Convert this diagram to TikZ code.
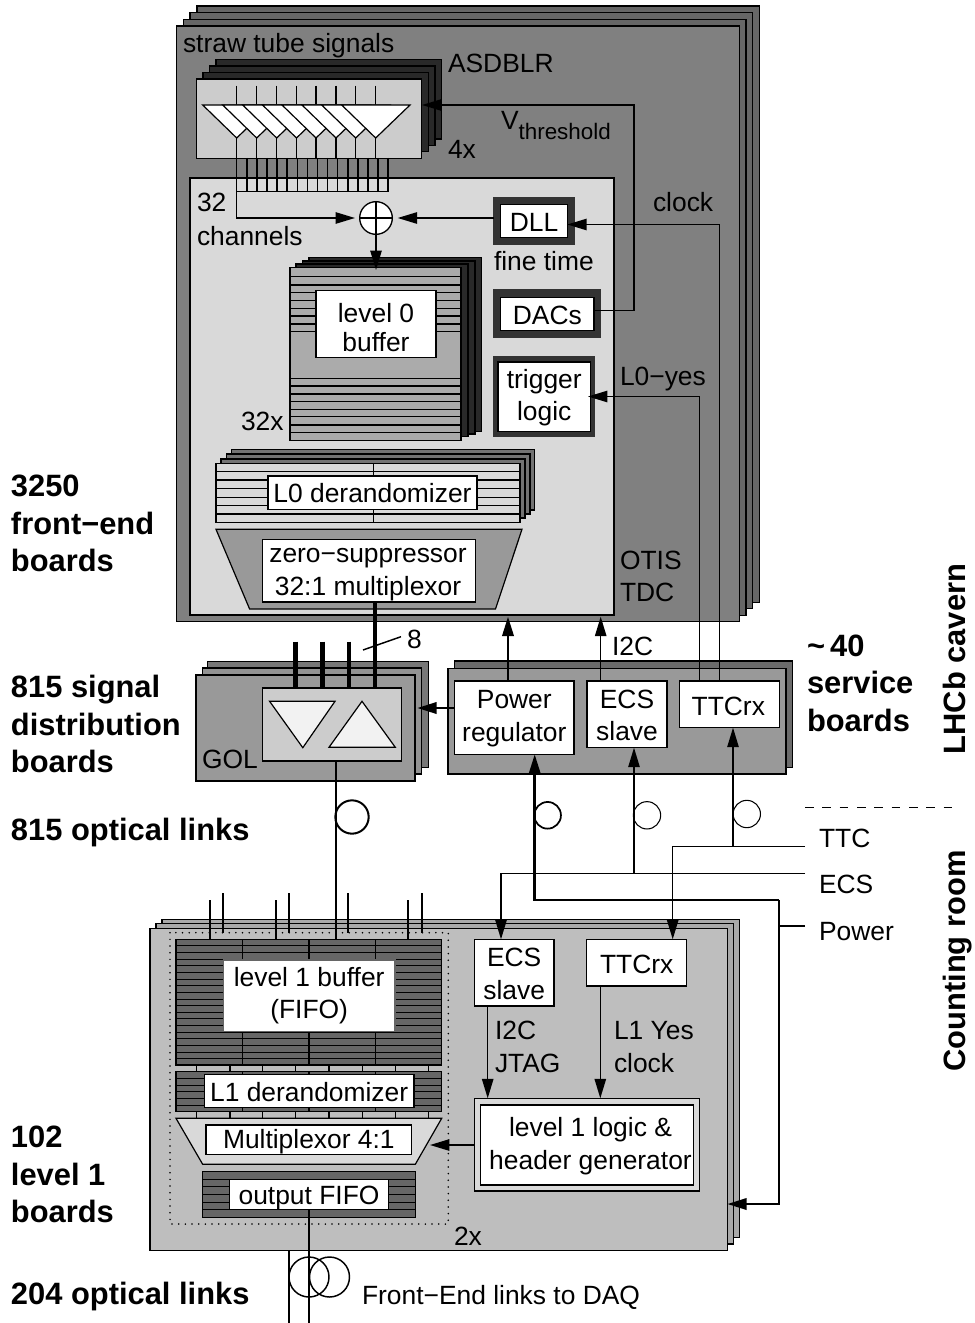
\documentclass[tikz,border=0pt]{standalone}
\usepackage{fontspec}
\setmainfont{Liberation Sans}
\usetikzlibrary{arrows.meta}
\definecolor{bdfront}{gray}{0.50}
\definecolor{bdback}{gray}{0.40}
\definecolor{asd}{gray}{0.16}
\definecolor{lightp}{gray}{0.85}
\definecolor{midg}{gray}{0.80}
\definecolor{bufg}{gray}{0.67}
\definecolor{trapg}{gray}{0.60}
\definecolor{svc}{gray}{0.60}
\definecolor{svcb}{gray}{0.42}
\definecolor{golb}{gray}{0.47}
\definecolor{lonef}{gray}{0.745}
\definecolor{loneb}{gray}{0.66}
\definecolor{fifo}{gray}{0.40}
\definecolor{ring}{gray}{0.20}
\definecolor{derb}{gray}{0.45}
% \bx[text shift]{name}{x1}{y1}{x2}{y2}{box style}{text}
\newcommand\bx[8][shift={(0,1)}]{%
  \pgfmathsetmacro\bw{(#5-#3)*0.75}\pgfmathsetmacro\bh{(#6-#4)*0.75}%
  \pgfmathsetmacro\cx{(#3+#5)/2}\pgfmathsetmacro\cy{(#4+#6)/2}%
  \node[minimum width=\bw pt,minimum height=\bh pt,inner sep=0pt,outer sep=0pt,#7] (#2) at (\cx,\cy) {};%
  \if\relax\detokenize{#8}\relax\else
    \node[inner sep=0pt,outer sep=0pt,align=center,#1] (#2t) at (\cx,\cy) {#8};%
  \fi}
\newcommand\rc[5]{\draw[thin box,#5] (#1,#2) rectangle (#3,#4);}
\tikzset{
  thin box/.style={draw=black,line width=0.9pt},
  fbox/.style={draw=black,line width=0.9pt},
  wbox/.style={draw=black,line width=0.9pt,fill=white},
  lbl/.style={anchor=base west,inner sep=0pt,outer sep=0pt,font=\fontsize{19.8}{24.4}\selectfont},
  blbl/.style={anchor=base west,inner sep=0pt,outer sep=0pt,font=\fontsize{23.15}{28}\selectfont\bfseries},
  wire/.style={line width=1.1pt,draw=black},
  hatch/.style={line width=0.9pt,draw=black},
  fhatch/.style={line width=0.7pt,draw=black},
  arr/.style={wire,-{Triangle[length=14.5pt,width=8.5pt]}},
  harr/.style={line width=1.9pt,draw=black,-{Triangle[length=14.5pt,width=8.5pt]}},
  bus/.style={line width=3.4pt,draw=black},
}
\begin{document}
\begin{tikzpicture}[x=0.75pt,y=-0.75pt,font=\fontsize{19.8}{24.4}\selectfont]
\useasboundingbox (0,0) rectangle (974,1323);
% ---- front-end boards
\rc{197}{6}{759.3}{602.3}{fill=bdback}
\rc{190}{12.7}{752.7}{608.3}{fill=bdback}
\rc{183.5}{19.3}{746}{615.3}{fill=bdback}
\bx{feb}{176.5}{26}{739.3}{621.7}{fbox,fill=bdfront}{}
% ---- ASDBLR stack
\rc{216}{59.3}{441.5}{139}{fill=asd}
\rc{209.6}{66}{435}{145.7}{fill=asd}
\rc{203}{72.7}{428.3}{151.7}{fill=asd}
\bx{asdblr}{196.3}{79}{421.7}{158.3}{fbox,fill=midg}{}
% panel
\bx{panel}{190}{178}{614}{615}{fbox,fill=lightp}{}
% amplifiers
\foreach \ax in {236.7,256.7,276.7,296.5,316,336,355.7,375.7}{
  \draw[wire] (\ax,85.7) -- (\ax,105);
  \draw[wire] (\ax,138) -- (\ax,158);
}
\foreach \ax in {236.7,256.7,276.7,296.5,316,336,355.7,375.7}{
  \draw[line width=0.9pt,fill=white] (\ax-34,105) -- (\ax+34.3,105) -- (\ax,138) -- cycle;
}
% comb
\foreach \ci in {0,...,15}{
  \draw[wire] (236.7+\ci*10.1,158) -- (236.7+\ci*10.1,191.7);
}
\draw[wire] (236.7,191.7) -- (388.3,191.7);
\coordinate (combcorner) at (236.7,191.7);
% adder
\node[draw=black,line width=1pt,fill=white,circle,minimum size=24.5pt,inner sep=0pt,outer sep=0pt] (adder) at (376,218) {};
\draw[line width=1pt] (adder.west) -- (adder.east) (adder.north) -- (adder.south);
\draw[arr] (combcorner) |- ([xshift=-3.5pt]adder.west);
% level 0 buffer stack
\rc{309}{257.7}{481.7}{431.7}{fill=asd}
\rc{302.7}{261}{475}{434}{fill=asd}
\rc{296}{264}{468}{436.7}{fill=asd}
\bx{lzero}{290}{267.3}{461}{440.7}{fbox,fill=bufg}{}
\foreach \hy in {276.7,285,292.3,300.7,308.3,316,324,331.7,378.3,386,394,401.7,409.3,416.7,425,432.7}{
  \draw[hatch] (290,\hy) -- (461,\hy);
}
\bx[shift={(0,3.5)}]{lzlabel}{316}{290.7}{436}{357.3}{wbox}{level 0\\[-2.6pt]buffer}
\draw[arr] (adder.south) -- (376,270);
% DLL, DACs, trigger
\bx{dllo}{494}{197.7}{574}{244.3}{draw=ring,line width=0.9pt,fill=ring}{}
\bx{dll}{500.7}{204.3}{567.3}{237.7}{wbox}{DLL}
\bx{daco}{494}{290}{600.7}{337.7}{draw=ring,line width=0.9pt,fill=ring}{}
\bx{dacs}{500.7}{297.7}{594}{330.7}{wbox}{DACs}
\bx{trigo}{494}{356.7}{594}{436.7}{draw=ring,line width=0.9pt,fill=ring}{}
\bx{trig}{498}{362}{590.5}{431.7}{wbox}{trigger\\logic}
\draw[arr] (dllo.west |- adder.east) -- ([xshift=4pt]adder.east);
% L0 derandomizer
\rc{231.5}{449.3}{534.5}{510}{fill=derb}
\rc{226.5}{454}{530}{514}{fill=derb}
\rc{221}{459}{525}{518}{fill=derb}
\bx{lzd}{216}{463.3}{520}{522.7}{fbox,fill=lightp}{}
\foreach \hy in {471.7,480,488.3,497.3,505.7,514}{
  \draw[hatch] (216,\hy) -- (520,\hy);
}
\draw[hatch] (373.8,463.3) -- (373.8,522.7);
\bx[shift={(0,0)}]{lzdlabel}{268}{476}{477}{509.3}{wbox}{L0 derandomizer}
% zero suppressor
\draw[thin box,fill=trapg] (216,529.3) -- (522,529.3) -- (495.5,609) -- (249.6,609) -- cycle;
\bx[shift={(-1,4)}]{zero}{262.7}{539.3}{475.3}{602}{wbox}{zero−suppressor\\32:1 multiplexor}
% front-end text
\node[lbl] (tstraw) at (183,53) {straw tube signals};
\node[lbl] (tasd) at (448,73) {ASDBLR};
\node[lbl] (tfour) at (448,159) {4x};
\node[lbl] (tvth) at (501,130) {V\raisebox{-7.5pt}{\fontsize{16.8}{20}\selectfont threshold}};
\node[lbl] (tclock) at (653,212) {clock};
\node[lbl] (t32) at (197,212) {32};
\node[lbl] (tchan) at (197,245) {channels};
\node[lbl] (tfine) at (494,271) {fine time};
\node[lbl] (tloy) at (620,385) {L0−yes};
\node[lbl] (t32x) at (241,430) {32x};
\node[lbl] (totis) at (620,569) {OTIS};
\node[lbl] (ttdc) at (620,601) {TDC};
% GOL boards
\rc{207.8}{661.7}{428.5}{767.7}{fill=golb}
\rc{202.4}{668}{421.4}{774}{fill=golb!80!white}
\bx{gol}{196}{675}{415}{781}{fbox,fill=svc}{}
\bx{golin}{262.5}{688}{401.5}{761}{fbox,fill=midg}{}
\draw[line width=0.9pt,fill=black!5] (269.6,701.3) -- (335,701.3) -- (302.8,747.7) -- cycle;
\draw[line width=0.9pt,fill=black!5] (329,747.3) -- (395.3,747.3) -- (362,701.3) -- cycle;
\node[lbl] (tgol) at (202,768) {GOL};
\foreach \bxx in {295.7,322.3,348.8}{
  \draw[bus] (\bxx,641.7) -- (\bxx,688);
}
\draw[bus] (375,0 |- zero.south) -- (375,0 |- golin.north);
\coordinate (ticka) at (363,650);
\coordinate (tickb) at (401,636.7);
\draw[line width=1.1pt] (ticka) -- (tickb);
\node[lbl] (teight) at (407,648) {8};
% service boards
\rc{454.6}{661}{792.7}{767.7}{fill=svcb}
\bx{svcf}{448}{668.3}{786}{774}{fbox,fill=svc}{}
\bx{pwr}{454.6}{681}{574}{754.3}{wbox}{Power\\regulator}
\bx{ecs}{587}{681}{667}{747.7}{wbox}{ECS\\slave}
\bx[shift={(-1,2)}]{ttc}{679.3}{681}{779.3}{727.7}{wbox}{TTCrx}
\draw[harr] (pwr.west |- 0,708) -- (417.3,708);
\draw[harr] (508,0 |- pwr.north) -- (508,616.7);
\draw[arr] (600.7,0 |- ecs.north) -- (600.7,616.7);
\node[lbl] (ti2c) at (612,655) {I2C};
\draw[arr] (699.5,0 |- ttc.north) -- (699.5,396.5) -- (588,396.5);
\draw[arr] (719.5,0 |- ttc.north) -- (719.5,224.5) -- (dll.east |- 0,224.5);
% DAC threshold line
\draw[arr] (dacs.east |- 0,310.7) -- (634,310.7) -- (634,105) -- (422,105);
% L1 boards
\rc{162}{919.3}{739.3}{1237.3}{fill=loneb}
\rc{156}{923.3}{733.3}{1244}{fill=loneb}
\bx{lone}{150}{928.3}{727.3}{1250.7}{fbox,fill=lonef}{}
\draw[line width=1.3pt,dash pattern=on 0pt off 5pt,line cap=round] (170,932.7) rectangle (448.3,1224);
% input ticks
\foreach \tx in {209.7,275.7,408}{ \draw[line width=1.3pt] (\tx,900) -- (\tx,939.3); }
\foreach \tx in {222.7,289,348.3,421.7}{ \draw[line width=1.3pt] (\tx,893.3) -- (\tx,932.7); }
% level 1 buffer
\bx{lonebuf}{176}{939.3}{441.7}{1065}{fbox,fill=fifo}{}
\foreach \hi in {1,...,18}{ \draw[fhatch] (176,939.3+\hi*6.63) -- (441.7,939.3+\hi*6.63); }
\foreach \vx in {242.7,309,375.3}{ \draw[line width=1.1pt] (\vx,939.3) -- (\vx,1065); }
\bx[shift={(0,0)}]{lonelab}{223.3}{960}{395}{1031.7}{wbox,draw=black!60}{level 1 buffer\\(FIFO)}
% bricks
\foreach \bkx in {196.7,230,262.7,295.7,329,362.3,395.7,428.7}{
  \draw[hatch] (\bkx,1065) -- (\bkx,1071.7);
  \draw[hatch] (\bkx,1111.7) -- (\bkx,1118.3);
}
% L1 derandomizer
\bx{loned}{176}{1071.7}{441.7}{1111.7}{fbox,fill=fifo}{}
\foreach \hi in {1,...,5}{ \draw[fhatch] (176,1071.7+\hi*6.67) -- (441.7,1071.7+\hi*6.67); }
\foreach \vx in {242.7,309,375.3}{ \draw[line width=1.1pt] (\vx,1071.7) -- (\vx,1111.7); }
\bx{lonedl}{204.3}{1074.3}{414}{1107.3}{wbox}{L1 derandomizer}
% multiplexor
\draw[thin box,fill=lightp] (176,1118.3) -- (441.7,1118.3) -- (415.3,1164.3) -- (202.7,1164.3) -- cycle;
\bx[shift={(0,2)}]{mux}{206}{1125}{411.7}{1154.3}{wbox}{Multiplexor 4:1}
% output fifo
\bx{ofifo}{202.7}{1171.3}{415.3}{1217.7}{fbox,fill=fifo}{}
\foreach \hi in {1,...,5}{ \draw[fhatch] (202.7,1171.3+\hi*7.7) -- (415.3,1171.3+\hi*7.7); }
\bx[shift={(0,4)}]{ofifol}{229.3}{1179.3}{388.7}{1209.3}{wbox}{output FIFO}
% L1 right side
\bx{lecs}{474.3}{939.3}{554}{1006}{wbox}{ECS\\slave}
\bx[shift={(0,2)}]{lttc}{586.7}{939.3}{686.7}{986}{wbox}{TTCrx}
\bx{llogo}{474.3}{1098.3}{699.7}{1191}{fbox,fill=lightp}{}
\bx[shift={(3.5,1)}]{llog}{480.7}{1105}{693.3}{1185}{wbox}{level 1 logic \&\\header generator}
\draw[arr] (487.7,0 |- lecs.south) -- (487.7,0 |- llogo.north);
\draw[arr] (600.3,0 |- lttc.south) -- (600.3,0 |- llogo.north);
\draw[arr] (llogo.west |- 0,1145) -- (430,1145);
\node[lbl] (tli2c) at (495,1039) {I2C};
\node[lbl] (tjtag) at (495,1072) {JTAG};
\node[lbl] (tl1y) at (614,1039) {L1 Yes};
\node[lbl] (tlck) at (614,1072) {clock};
\node[lbl] (ttwo) at (454,1245) {2x};
% optical main link
\draw[wire] (336,0 |- golin.south) -- (336,0 |- lonebuf.north);
\node[draw=black,line width=1.5pt,circle,minimum size=25pt,inner sep=0pt] (optring) at (352,817) {};
% service feeds
\coordinate (ttcin) at (805,846.7);
\coordinate (ecsin) at (805,873.3);
\coordinate (pwrin) at (805,926);
\draw[arr] (ttcin) -- (672.7,846.7) -- (672.7,0 |- lttc.north);
\draw[arr] (733,846.7) -- (733,0 |- ttc.south);
\draw[wire] (ecsin) -- (501,873.3);
\draw[arr] (501,873.3) -- (501,0 |- lecs.north);
\draw[arr] (634,873.3) -- (634,0 |- ecs.south);
\draw[harr] (779,900) -- (534.7,900) -- (534.7,0 |- pwr.south);
\draw[harr] (779,900) -- (779,1204) -- (lone.east |- 0,1204);
\draw[line width=1.4pt] (pwrin) -- (779,926);
\node[draw=black,line width=1.3pt,circle,minimum size=20pt,inner sep=0pt] (pring) at (547.6,815.3) {};
\node[draw=black,line width=0.8pt,circle,minimum size=20.5pt,inner sep=0pt] (ering) at (647,815.3) {};
\node[draw=black,line width=0.8pt,circle,minimum size=20.5pt,inner sep=0pt] (tring) at (746.8,814) {};
\coordinate (dasha) at (805,807);
\coordinate (dashb) at (956,807);
\draw[line width=0.7pt,dash pattern=on 6.5pt off 6.5pt] (dasha) -- (dashb);
\node[lbl] (tttc) at (819,847) {TTC};
\node[lbl] (tecs) at (819,893) {ECS};
\node[lbl] (tpow) at (819,940) {Power};
% output
\draw[line width=1.2pt] (309,0 |- ofifol.south) -- (309,1322.7);
\draw[wire] (289,0 |- lone.south) -- (289,1322.7);
\node[draw=black,line width=1.1pt,circle,minimum size=30pt,inner sep=0pt] (ra) at (309,1277) {};
\node[draw=black,line width=1.1pt,circle,minimum size=30pt,inner sep=0pt] (rb) at (329.5,1277) {};
\node[lbl] (tfe) at (362,1304) {Front−End links to DAQ};
% bold labels
\node[blbl] (b1) at (11,496) {3250};
\node[blbl] (b2) at (11,534.5) {front−end};
\node[blbl] (b3) at (11,571) {boards};
\node[blbl] (b4) at (11,697) {815 signal};
\node[blbl] (b5) at (11,735) {distribution};
\node[blbl] (b6) at (11,772) {boards};
\node[blbl] (b7) at (11,840) {815 optical links};
\node[blbl] (b8) at (11,1147) {102};
\node[blbl] (b9) at (11,1185) {level 1};
\node[blbl] (b10) at (11,1222) {boards};
\node[blbl] (b11) at (11,1304) {204 optical links};
\node[blbl] (b12) at (807,656) {\textasciitilde\,40};
\node[blbl] (b13) at (807,693) {service};
\node[blbl] (b14) at (807,731) {boards};
\node[blbl,anchor=base,rotate=90] (b15) at (965,659) {LHCb cavern};
\node[blbl,anchor=base,rotate=90] (b16) at (965,961) {Counting room};
\end{tikzpicture}
\end{document}
